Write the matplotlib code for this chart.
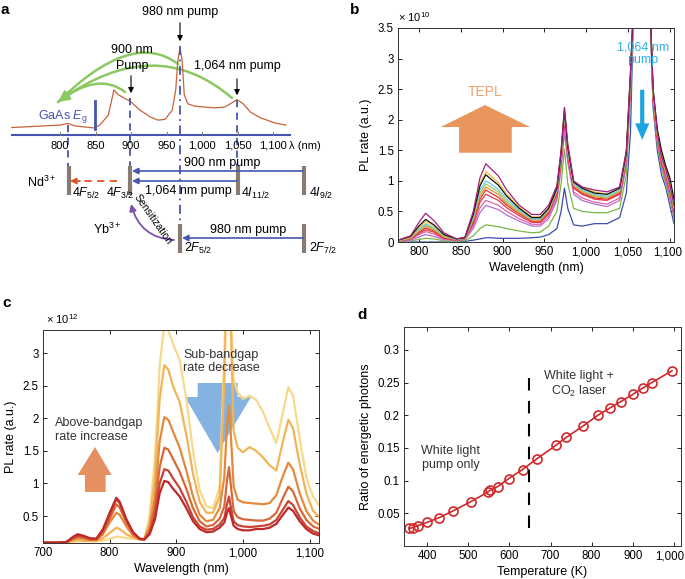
import numpy as np
import matplotlib.pyplot as plt
import matplotlib.transforms as mtrans
from matplotlib.patches import FancyArrowPatch, Polygon
from matplotlib.path import Path

plt.rcParams['font.family'] = ['Liberation Sans', 'DejaVu Sans']
plt.rcParams['mathtext.fontset'] = 'custom'
plt.rcParams['mathtext.rm'] = 'Liberation Sans'
plt.rcParams['mathtext.it'] = 'Liberation Sans:italic'
plt.rcParams['font.size'] = 8.5

# ---- panel a : schematic spectrum (a.u.)
wl_a = [732, 800, 811, 821, 848, 856, 868, 876, 882, 899, 913, 927, 938, 948, 958,
        963, 966, 969, 972, 975, 980, 990, 1004, 1018, 1032, 1042, 1049, 1058, 1068,
        1082, 1103, 1118]
int_a = [0.03, 0.06, 0.08, 0.05, 0.025, 0.06, 0.18, 0.49, 0.43, 0.35, 0.24, 0.16, 0.12,
         0.13, 0.24, 0.49, 0.85, 1.0, 0.85, 0.43, 0.32, 0.29, 0.28, 0.27, 0.28, 0.33,
         0.37, 0.32, 0.22, 0.15, 0.085, 0.06]
ticks_a = [800, 850, 900, 950, 1000, 1050, 1100]
ticklabels_a = ['800', '850', '900', '950', '1,000', '1,050', '1,100']

# ---- panel b : PL spectra (x 1e10)
wl_b = [775, 790, 800, 808, 818, 830, 845, 855, 865, 873, 880, 886, 895, 905, 920, 935,
        945, 955, 965, 970, 974, 978, 985, 995, 1010, 1025, 1040, 1048, 1053, 1057,
        1076, 1080, 1085, 1090, 1095, 1100, 1105]
pl_b = [
    [0.0, 0.0, 0.0, 0.0, 0.0, 0.0, 0.0, 0.01, 0.03, 0.05, 0.07, 0.07, 0.06, 0.06, 0.06, 0.07,
     0.08, 0.12, 0.22, 0.50, 0.88, 0.55, 0.28, 0.26, 0.30, 0.30, 0.40, 0.80, 1.80, 4.0,
     4.0, 2.20, 1.50, 1.10, 0.90, 0.60, 0.30],
    [0.01, 0.02, 0.04, 0.06, 0.05, 0.02, 0.01, 0.02, 0.10, 0.22, 0.28, 0.27, 0.25, 0.22, 0.18, 0.15,
     0.16, 0.26, 0.50, 0.95, 1.52, 0.95, 0.55, 0.50, 0.48, 0.48, 0.55, 1.10, 2.40, 4.0,
     4.0, 2.25, 1.60, 1.20, 0.95, 0.70, 0.40],
    [0.01, 0.03, 0.08, 0.12, 0.09, 0.04, 0.02, 0.04, 0.22, 0.48, 0.60, 0.57, 0.53, 0.44, 0.34, 0.26,
     0.26, 0.38, 0.68, 1.20, 1.80, 1.30, 0.78, 0.68, 0.62, 0.58, 0.68, 1.25, 2.50, 4.0,
     4.0, 2.30, 1.65, 1.25, 1.00, 0.75, 0.40],
    [0.02, 0.04, 0.12, 0.17, 0.13, 0.05, 0.03, 0.05, 0.26, 0.56, 0.68, 0.65, 0.60, 0.50, 0.38, 0.29,
     0.29, 0.42, 0.72, 1.25, 1.95, 1.35, 0.82, 0.72, 0.65, 0.62, 0.72, 1.30, 2.55, 4.0,
     4.0, 2.30, 1.65, 1.30, 1.05, 0.80, 0.45],
    [0.02, 0.05, 0.14, 0.20, 0.16, 0.06, 0.03, 0.05, 0.30, 0.65, 0.78, 0.74, 0.68, 0.56, 0.43, 0.32,
     0.32, 0.46, 0.78, 1.32, 2.02, 1.42, 0.88, 0.78, 0.70, 0.68, 0.78, 1.35, 2.60, 4.0,
     4.0, 2.35, 1.70, 1.30, 1.10, 0.85, 0.50],
    [0.02, 0.06, 0.16, 0.23, 0.18, 0.07, 0.04, 0.06, 0.33, 0.70, 0.85, 0.80, 0.73, 0.60, 0.46, 0.34,
     0.34, 0.48, 0.80, 1.35, 2.05, 1.45, 0.90, 0.80, 0.72, 0.70, 0.80, 1.38, 2.65, 4.0,
     4.0, 2.35, 1.70, 1.35, 1.10, 0.85, 0.50],
    [0.02, 0.06, 0.18, 0.26, 0.20, 0.08, 0.04, 0.06, 0.36, 0.75, 0.90, 0.85, 0.78, 0.63, 0.48, 0.36,
     0.36, 0.50, 0.83, 1.38, 2.08, 1.48, 0.92, 0.82, 0.74, 0.72, 0.82, 1.40, 2.65, 4.0,
     4.0, 2.40, 1.75, 1.35, 1.15, 0.90, 0.55],
    [0.02, 0.07, 0.19, 0.28, 0.21, 0.09, 0.04, 0.06, 0.38, 0.80, 0.95, 0.90, 0.82, 0.66, 0.50, 0.37,
     0.37, 0.52, 0.85, 1.40, 2.10, 1.50, 0.94, 0.84, 0.76, 0.73, 0.83, 1.40, 2.70, 4.0,
     4.0, 2.40, 1.75, 1.40, 1.15, 0.90, 0.55],
    [0.03, 0.08, 0.21, 0.30, 0.23, 0.10, 0.04, 0.07, 0.40, 0.85, 1.00, 0.95, 0.86, 0.70, 0.52, 0.38,
     0.38, 0.53, 0.86, 1.42, 2.12, 1.52, 0.95, 0.86, 0.78, 0.75, 0.85, 1.42, 2.70, 4.0,
     4.0, 2.45, 1.80, 1.40, 1.20, 0.95, 0.60],
    [0.03, 0.08, 0.24, 0.34, 0.26, 0.11, 0.05, 0.07, 0.45, 0.95, 1.15, 1.08, 0.97, 0.78, 0.57, 0.41,
     0.41, 0.56, 0.90, 1.48, 2.20, 1.58, 0.99, 0.90, 0.82, 0.78, 0.88, 1.45, 2.75, 4.0,
     4.0, 2.45, 1.80, 1.45, 1.25, 1.00, 0.65],
    [0.03, 0.09, 0.26, 0.37, 0.28, 0.12, 0.05, 0.07, 0.45, 0.92, 1.10, 1.03, 0.93, 0.75, 0.55, 0.40,
     0.40, 0.55, 0.88, 1.45, 2.15, 1.55, 0.98, 0.88, 0.80, 0.78, 0.88, 1.45, 2.75, 4.0,
     4.0, 2.50, 1.85, 1.50, 1.25, 1.05, 0.70],
    [0.03, 0.10, 0.32, 0.47, 0.35, 0.15, 0.05, 0.08, 0.50, 1.05, 1.28, 1.20, 1.08, 0.85, 0.60, 0.45,
     0.45, 0.60, 0.92, 1.50, 2.20, 1.60, 1.00, 0.90, 0.85, 0.82, 0.90, 1.50, 2.80, 4.0,
     4.0, 2.50, 1.80, 1.40, 1.20, 0.95, 0.60],
]
colors_b = ['#3a4fae', '#7ab648', '#b36fcf', '#e060a8', '#e8384f', '#d9342b',
            '#f08a3a', '#9ccc5a', '#6fc6ec', '#f2c12e', '#111111', '#a3207e']

# ---- panel c : PL spectra (x 1e12)
wl_c = [700, 720, 735, 745, 752, 760, 770, 780, 790, 800, 810, 815, 825, 835, 845, 852,
        860, 868, 875, 882, 888, 895, 905, 915, 925, 935, 945, 955, 965, 972, 976, 979,
        982, 986, 992, 1000, 1010, 1020, 1030, 1040, 1050, 1060, 1068, 1075, 1085, 1095,
        1105, 1115]
pl_c = [
    [0.09, 0.09, 0.09, 0.10, 0.11, 0.11, 0.11, 0.11, 0.12, 0.15, 0.18, 0.18, 0.16, 0.15, 0.14, 0.15,
     0.50, 1.40, 2.80, 3.45, 3.35, 3.15, 2.90, 2.30, 1.50, 0.90, 0.65, 0.62, 0.95, 3.0, 4.5, 4.5,
     3.6, 2.6, 2.40, 2.30, 2.35, 2.28, 2.10, 1.85, 1.62, 2.10, 2.48, 2.35, 1.70, 1.10,
     0.80, 0.65],
    [0.09, 0.09, 0.09, 0.12, 0.13, 0.12, 0.12, 0.12, 0.16, 0.24, 0.32, 0.30, 0.22, 0.17, 0.14, 0.14,
     0.40, 1.10, 2.30, 2.82, 2.75, 2.50, 2.25, 1.75, 1.15, 0.72, 0.55, 0.55, 0.80, 2.6, 4.3, 4.3,
     3.3, 1.8, 1.55, 1.48, 1.56, 1.50, 1.40, 1.28, 1.20, 1.65, 1.98, 1.85, 1.30, 0.85,
     0.58, 0.48],
    [0.09, 0.09, 0.10, 0.14, 0.16, 0.15, 0.13, 0.13, 0.22, 0.40, 0.55, 0.52, 0.34, 0.20, 0.14, 0.14,
     0.32, 0.80, 1.65, 2.02, 1.98, 1.80, 1.55, 1.20, 0.80, 0.52, 0.42, 0.44, 0.62, 1.10, 1.9, 2.2,
     1.7, 0.95, 0.75, 0.71, 0.70, 0.69, 0.68, 0.70, 0.82, 1.12, 1.32, 1.22, 0.85, 0.58,
     0.43, 0.36],
    [0.09, 0.09, 0.10, 0.15, 0.18, 0.17, 0.14, 0.14, 0.25, 0.45, 0.68, 0.63, 0.40, 0.23, 0.15, 0.14,
     0.28, 0.65, 1.25, 1.55, 1.52, 1.38, 1.18, 0.92, 0.62, 0.42, 0.34, 0.36, 0.46, 0.65, 1.05, 1.25,
     0.95, 0.58, 0.48, 0.45, 0.44, 0.43, 0.43, 0.46, 0.55, 0.78, 0.95, 0.88, 0.62, 0.44,
     0.34, 0.30],
    [0.09, 0.09, 0.10, 0.17, 0.20, 0.19, 0.15, 0.15, 0.28, 0.52, 0.76, 0.70, 0.44, 0.25, 0.15, 0.14,
     0.24, 0.52, 1.00, 1.22, 1.20, 1.08, 0.93, 0.72, 0.48, 0.34, 0.29, 0.30, 0.37, 0.47, 0.68, 0.80,
     0.62, 0.42, 0.36, 0.34, 0.33, 0.34, 0.35, 0.37, 0.44, 0.60, 0.73, 0.67, 0.48, 0.34,
     0.27, 0.23],
    [0.09, 0.09, 0.10, 0.18, 0.22, 0.20, 0.16, 0.15, 0.30, 0.55, 0.78, 0.72, 0.45, 0.25, 0.15, 0.14,
     0.22, 0.45, 0.85, 1.04, 1.02, 0.92, 0.80, 0.62, 0.42, 0.30, 0.25, 0.26, 0.32, 0.40, 0.55, 0.62,
     0.50, 0.35, 0.30, 0.28, 0.28, 0.30, 0.30, 0.32, 0.38, 0.52, 0.63, 0.58, 0.42, 0.30,
     0.23, 0.20],
]
colors_c = ['#f7d98c', '#f2b458', '#e48a3c', '#d8683a', '#c84436', '#be2a2a']

# ---- panel d : ratio of energetic photons vs temperature
temp_d = [356, 365, 377, 399, 428, 464, 507, 549, 553, 572, 598, 632, 666, 713, 738,
          780, 815, 844, 871, 900, 925, 946, 995]
ratio_d = [0.027, 0.028, 0.031, 0.036, 0.043, 0.054, 0.068, 0.083, 0.085, 0.091, 0.103,
           0.117, 0.133, 0.154, 0.166, 0.184, 0.200, 0.211, 0.221, 0.232, 0.242, 0.250, 0.268]

fig = plt.figure(figsize=(6.85, 5.79), dpi=100)


def px_axes(l, t, r, b):
    return fig.add_axes([l / 685, 1 - b / 579, (r - l) / 685, (b - t) / 579])


def lam(px):
    # horizontal pixel position in panel a -> wavelength units
    return 800 + (px - 60) / 0.71


def matlab_box(ax):
    ax.tick_params(direction='in', top=True, right=True, length=3, width=0.6,
                   labelsize=8.3, pad=3)
    for s in ax.spines.values():
        s.set_linewidth(0.7)
        s.set_color('#333333')


def nudge_last_xlabel(ax, dx_px):
    lab = ax.get_xticklabels()[-1]
    lab.set_transform(lab.get_transform() +
                      mtrans.ScaledTranslation(dx_px / 100, 0, fig.dpi_scale_trans))


blue = '#4555b0'
green = '#8cc862'

# ================= panel a
ax_a = px_axes(0, 0, 340, 262)
ax_a.set_xlim(lam(0), lam(340))
ax_a.set_ylim(262, 0)
ax_a.axis('off')

ax_a.plot(wl_a, 130 - 82 * np.array(int_a), color='#c8643c', lw=0.9)
ax_a.plot([lam(12), lam(290)], [135, 135], color=blue, lw=1.5)
for t, lab in zip(ticks_a, ticklabels_a):
    ax_a.plot([t, t], [131.5, 135], color='#777777', lw=0.7)
    ax_a.text(t, 146, lab, ha='center', va='center', fontsize=8)
ax_a.text(lam(305), 146, 'λ (nm)', ha='center', va='center', fontsize=8)

ax_a.plot([lam(68)] * 2, [125, 167], color=blue, lw=1.3, dashes=(4, 3))
ax_a.plot([lam(95)] * 2, [101, 129], color=blue, lw=2)
ax_a.plot([lam(130)] * 2, [98, 167], color=blue, lw=1.3, dashes=(4, 3))
ax_a.plot([lam(180)] * 2, [46, 240], color=blue, lw=1.3, dashes=(5, 2.5, 1, 2.5))
ax_a.plot([lam(237)] * 2, [100, 167], color=blue, lw=1.3, dashes=(4, 3))

ax_a.text(lam(63), 117, 'GaAs $E_\\mathrm{g}$', color=blue, ha='center', va='center', fontsize=9)

kw_black = dict(arrowstyle='-|>', color='k', lw=0.8, mutation_scale=8)
ax_a.annotate('', xy=(lam(180), 44), xytext=(lam(180), 20), arrowprops=kw_black)
ax_a.text(lam(180), 12, '980 nm pump', ha='center', va='center', fontsize=9)
ax_a.annotate('', xy=(lam(131), 96), xytext=(lam(131), 73), arrowprops=kw_black)
ax_a.text(lam(132), 50, '900 nm', ha='center', va='center', fontsize=9)
ax_a.text(lam(132), 66, 'Pump', ha='center', va='center', fontsize=9)
ax_a.annotate('', xy=(lam(237), 98), xytext=(lam(237), 76), arrowprops=kw_black)
ax_a.text(lam(237), 66, '1,064 nm pump', ha='center', va='center', fontsize=9)

# green arcs: start, control, end (panel pixels)
for (p0, c, style) in [((178, 64), (132, 29), '-'),
                       ((232, 98), (155, 32), '-|>'),
                       ((125, 92), (98, 71), '-')]:
    verts = [(lam(p0[0]), p0[1]), (lam(c[0]), c[1]), (lam(58), 102)]
    ax_a.add_patch(FancyArrowPatch(path=Path(verts, [Path.MOVETO, Path.CURVE3, Path.CURVE3]),
                                   arrowstyle=style, mutation_scale=16,
                                   color=green, lw=1.8))

# energy levels
level_col = '#8a7b72'
for px in [69, 130, 238, 304]:
    ax_a.plot([lam(px)] * 2, [166, 195], color=level_col, lw=3, solid_capstyle='butt')
for px in [180, 304]:
    ax_a.plot([lam(px)] * 2, [224, 253], color=level_col, lw=3, solid_capstyle='butt')

kw_blue = dict(arrowstyle='-|>', color=blue, lw=1.2, mutation_scale=9, shrinkA=0, shrinkB=0)
ax_a.annotate('', xy=(lam(132), 171), xytext=(lam(303), 171), arrowprops=kw_blue)
ax_a.annotate('', xy=(lam(132), 181), xytext=(lam(237), 181), arrowprops=kw_blue)
ax_a.annotate('', xy=(lam(182), 238), xytext=(lam(303), 238), arrowprops=kw_blue)
ax_a.text(lam(222), 163, '900 nm pump', ha='center', va='center', fontsize=9)
ax_a.text(lam(188), 191, '1,064 nm pump', ha='center', va='center', fontsize=9)
ax_a.text(lam(248), 230, '980 nm pump', ha='center', va='center', fontsize=9)

red = '#e0502a'
ax_a.plot([lam(117), lam(80)], [181, 181], color=red, lw=1.3, dashes=(4, 3))
ax_a.annotate('', xy=(lam(70), 181), xytext=(lam(80), 181),
              arrowprops=dict(arrowstyle='-|>', color=red, lw=1.2, mutation_scale=9,
                              shrinkA=0, shrinkB=0))

ax_a.text(lam(42), 182, 'Nd$^{3+}$', ha='center', va='center', fontsize=9)
ax_a.text(lam(107), 229, 'Yb$^{3+}$', ha='center', va='center', fontsize=9)
lev_kw = dict(ha='left', va='center', fontsize=9)
ax_a.text(lam(72), 193, '$\\mathit{4F_{5/2}}$', **lev_kw)
ax_a.text(lam(106), 193, '$\\mathit{4F_{3/2}}$', **lev_kw)
ax_a.text(lam(241), 193, '$\\mathit{4I_{11/2}}$', **lev_kw)
ax_a.text(lam(309), 193, '$\\mathit{4I_{9/2}}$', **lev_kw)
ax_a.text(lam(184), 248, '$\\mathit{2F_{5/2}}$', **lev_kw)
ax_a.text(lam(309), 248, '$\\mathit{2F_{7/2}}$', **lev_kw)

sens = [(lam(174), 240), (lam(140), 238), (lam(131), 204)]
ax_a.add_patch(FancyArrowPatch(path=Path(sens, [Path.MOVETO, Path.CURVE3, Path.CURVE3]),
                               arrowstyle='-|>', mutation_scale=10, color='#7a4fb0', lw=1.3))
ax_a.text(lam(153), 219, 'Sensitization', rotation=-55, ha='center', va='center', fontsize=7.5)

# ================= panel b
ax_b = px_axes(398, 28, 674, 242)
for vals, c in zip(pl_b, colors_b):
    ax_b.plot(wl_b, vals, color=c, lw=0.9)
ax_b.set_xlim(775, 1105)
ax_b.set_ylim(0, 3.5)
ax_b.set_xticks([800, 850, 900, 950, 1000, 1050, 1100])
ax_b.set_xticklabels(['800', '850', '900', '950', '1,000', '1,050', '1,100'])
ax_b.set_yticks([0, 0.5, 1, 1.5, 2, 2.5, 3, 3.5])
ax_b.set_yticklabels(['0', '0.5', '1', '1.5', '2', '2.5', '3', '3.5'])
ax_b.set_xlabel('Wavelength (nm)', fontsize=9, labelpad=3)
ax_b.set_ylabel('PL rate (a.u.)', fontsize=9, labelpad=4)
matlab_box(ax_b)
nudge_last_xlabel(ax_b, -2)
ax_b.text(0.0, 1.05, '× 10$^{10}$', transform=ax_b.transAxes, ha='left', va='center', fontsize=8)

ax_b.add_patch(Polygon([(848, 1.46), (911, 1.46), (911, 1.88), (933, 1.88), (879, 2.24),
                        (826, 1.88), (848, 1.88)], closed=True, color='#e8955e', lw=0))
ax_b.text(879, 2.45, 'TEPL', color='#f0a070', ha='center', va='center', fontsize=10)
ax_b.add_patch(Polygon([(1064.5, 2.49), (1069.5, 2.49), (1069.5, 1.94), (1075.5, 1.94),
                        (1067, 1.67), (1058.5, 1.94), (1064.5, 1.94)], closed=True,
                       color='#1ea5e0', lw=0))
ax_b.text(1068, 3.08, '1,064 nm\npump', color='#2ab0e8', ha='center', va='center',
          fontsize=9, linespacing=1.1)

# ================= panel c
ax_c = px_axes(43, 330, 319, 543)
for vals, c in zip(pl_c, colors_c):
    ax_c.plot(wl_c, vals, color=c, lw=1.6)
ax_c.set_xlim(700, 1114)
ax_c.set_ylim(0.085, 3.36)
ax_c.set_xticks([700, 800, 900, 1000, 1100])
ax_c.set_xticklabels(['700', '800', '900', '1,000', '1,100'])
ax_c.set_yticks([0.5, 1, 1.5, 2, 2.5, 3])
ax_c.set_yticklabels(['0.5', '1', '1.5', '2', '2.5', '3'])
ax_c.set_xlabel('Wavelength (nm)', fontsize=9, labelpad=3)
ax_c.set_ylabel('PL rate (a.u.)', fontsize=9, labelpad=4)
matlab_box(ax_c)
ax_c.text(0.01, 1.05, '× 10$^{12}$', transform=ax_c.transAxes, ha='left', va='center', fontsize=8)

ax_c.add_patch(Polygon([(763, 0.87), (794, 0.87), (794, 1.13), (803, 1.13), (778, 1.56),
                        (752, 1.13), (763, 1.13)], closed=True, color='#e59060', lw=0))
ax_c.text(718, 1.82, 'Above-bandgap\nrate increase', ha='left', va='center', fontsize=9,
          color='#333333', linespacing=1.15)
ax_c.add_patch(Polygon([(932, 2.545), (992, 2.545), (992, 2.33), (1012, 2.33), (962, 1.47),
                        (913, 2.33), (932, 2.33)], closed=True, color='#6fa6dc', alpha=0.85,
                       lw=0))
ax_c.text(910, 2.88, 'Sub-bandgap\nrate decrease', ha='left', va='center', fontsize=9,
          color='#333333', linespacing=1.15)

# ================= panel d
ax_d = px_axes(404, 327, 681, 546)
ax_d.plot(temp_d, ratio_d, color='#d0282a', lw=1.2, marker='o', ms=6.5, mfc='none',
          mew=1.2)
ax_d.plot([648, 648], [0.027, 0.267], color='k', lw=1.5, dashes=(6, 5))
ax_d.set_xlim(344, 1017)
ax_d.set_ylim(0, 0.335)
ax_d.set_xticks([400, 500, 600, 700, 800, 900, 1000])
ax_d.set_xticklabels(['400', '500', '600', '700', '800', '900', '1,000'])
ax_d.set_yticks([0.05, 0.1, 0.15, 0.2, 0.25, 0.3])
ax_d.set_yticklabels(['0.05', '0.1', '0.15', '0.2', '0.25', '0.3'])
ax_d.set_xlabel('Temperature (K)', fontsize=9, labelpad=3)
ax_d.set_ylabel('Ratio of energetic photons', fontsize=9, labelpad=4)
matlab_box(ax_d)
nudge_last_xlabel(ax_d, -4)
ax_d.text(458, 0.135, 'White light\npump only', ha='center', va='center', fontsize=9,
          color='#333333', linespacing=1.2)
ax_d.text(769, 0.247, 'White light +\nCO$_2$ laser', ha='center', va='center', fontsize=9,
          color='#333333', linespacing=1.2)

for lab, x, y in [('a', 5, 10), ('b', 355, 10), ('c', 7, 303), ('d', 362, 315)]:
    fig.text(x / 685, 1 - y / 579, lab, fontsize=11, fontweight='bold', ha='center',
             va='center')

fig.savefig('out.png', dpi=100)
